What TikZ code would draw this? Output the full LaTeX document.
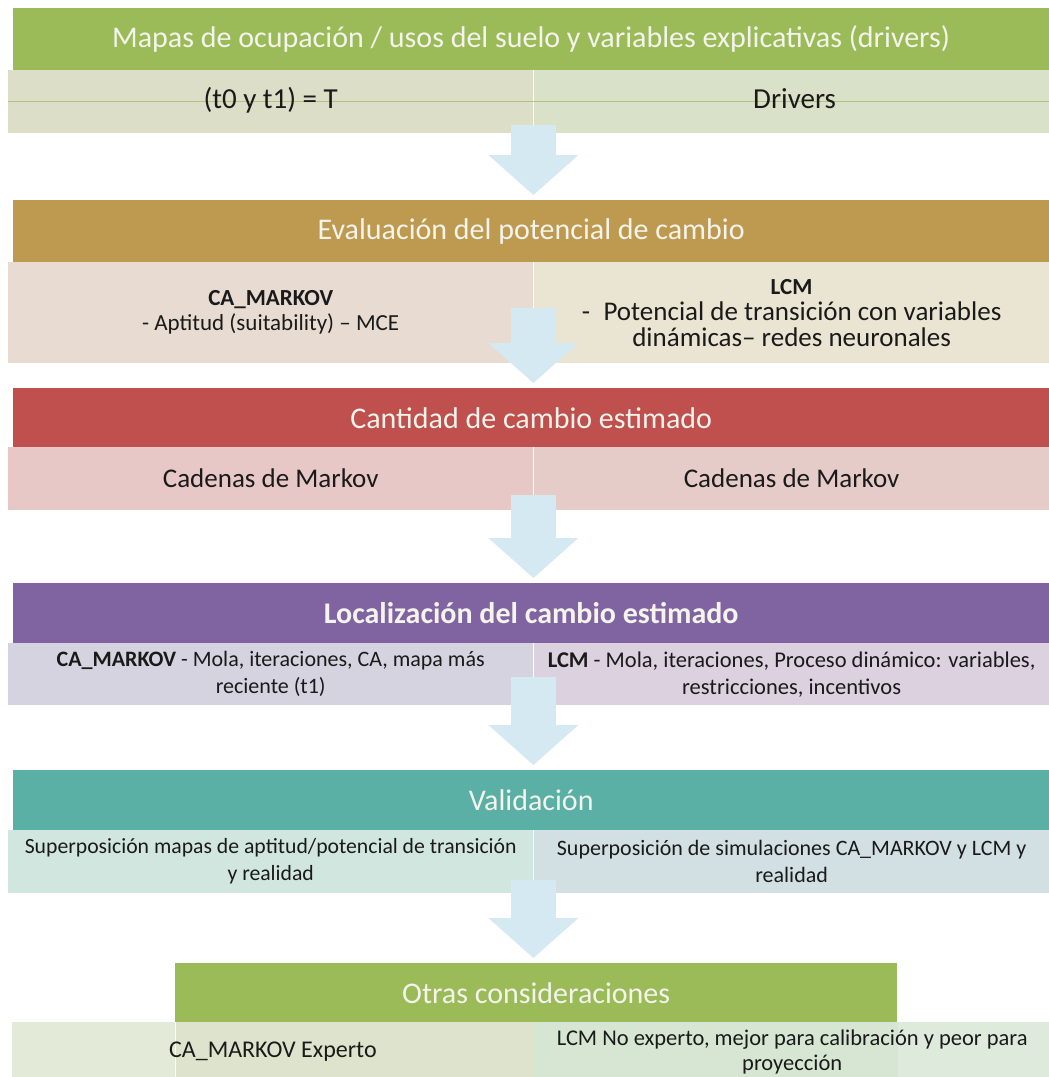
\documentclass[tikz,border=0pt]{standalone}
\usepackage{fontspec}
\setmainfont{Carlito}
\usetikzlibrary{arrows.meta,positioning,calc}

\definecolor{verde}{HTML}{9BBB59}
\definecolor{dorado}{HTML}{BE9A50}
\definecolor{rojo}{HTML}{C0504D}
\definecolor{morado}{HTML}{8064A2}
\definecolor{turquesa}{HTML}{5BB0A5}
\definecolor{fila1a}{HTML}{DDDEC8}
\definecolor{fila1b}{HTML}{D9E1C9}
\definecolor{fila2a}{HTML}{E8DCD2}
\definecolor{fila2b}{HTML}{EAE5D3}
\definecolor{fila3a}{HTML}{E7C8C7}
\definecolor{fila3b}{HTML}{E6CCC9}
\definecolor{fila4a}{HTML}{D4D3DF}
\definecolor{fila4b}{HTML}{DCD1DE}
\definecolor{fila5a}{HTML}{D1E6DF}
\definecolor{fila5b}{HTML}{D2DFE3}
\definecolor{fila6a}{HTML}{E4EAD8}
\definecolor{fila6b}{HTML}{DDE3CC}
\definecolor{fila6c}{HTML}{D7E6D3}
\definecolor{fila6d}{HTML}{DEEBDC}
\definecolor{lineaverde}{HTML}{AFC484}
\definecolor{azulflecha}{HTML}{D5E9F3}
\definecolor{textocab}{HTML}{F4F4EC}
\definecolor{textocelda}{HTML}{1A1A1A}

\tikzset{
  cabecera/.style={rectangle, anchor=north west, inner sep=0pt, text=textocab,
    font=\fontsize{30}{34}\selectfont},
  celda/.style={rectangle, anchor=north west, inner sep=0pt, align=center,
    text=textocelda},
  texto/.style={inner sep=0pt, align=center, text=textocelda,
    text height=0.7em, text depth=0.2em},
  flecha/.style={draw=azulflecha, line width=45pt,
    -{Triangle[width=90pt,length=40pt,line width=0pt]}, shorten >=5pt},
}

\begin{document}
\begin{tikzpicture}[x=1pt,y=-1pt]
\useasboundingbox (0,0) rectangle (1049,1077);

% Mapas y drivers
\node[cabecera, fill=verde, minimum width=1036pt, minimum height=62pt] (cab1) at (13,8)
  {Mapas de ocupación / usos del suelo y variables explicativas (drivers)};
\node[celda, fill=fila1a, minimum width=525pt, minimum height=63pt] (c1a) at (8,70) {};
\node[celda, fill=fila1b, minimum width=516pt, minimum height=63pt] (c1b) at (c1a.north east) {};
\draw[lineaverde, line width=1.5pt] (c1a.west) -- (c1b.east);
\node[texto, font=\fontsize{29}{32}\selectfont] (t1a) at ([yshift=-4pt]c1a.center) {(t0 y t1) = T};
\node[texto, font=\fontsize{29}{32}\selectfont] (t1b) at ([xshift=3pt,yshift=-4pt]c1b.center) {Drivers};

% Potencial de cambio
\node[cabecera, fill=dorado, minimum width=1036pt, minimum height=62pt] (cab2) at (13,200)
  {Evaluación del potencial de cambio};
\node[celda, fill=fila2a, minimum width=525pt, minimum height=101pt,
  font=\fontsize{23}{25}\selectfont] (c2a) at (8,262)
  {\textbf{CA\_MARKOV}\\- Aptitud (suitability) – MCE};
\node[celda, fill=fila2b, minimum width=516pt, minimum height=101pt,
  font=\fontsize{27}{26}\selectfont] (c2b) at (c2a.north east)
  {{\fontsize{23}{23}\selectfont\bfseries LCM}\\-\enspace Potencial de transición con variables\\dinámicas– redes neuronales};

% Cantidad de cambio
\node[cabecera, fill=rojo, minimum width=1036pt, minimum height=59pt] (cab3) at (13,388)
  {Cantidad de cambio estimado};
\node[celda, fill=fila3a, minimum width=525pt, minimum height=63pt,
  font=\fontsize{27}{30}\selectfont] (c3a) at (8,447) {Cadenas de Markov};
\node[celda, fill=fila3b, minimum width=516pt, minimum height=63pt,
  font=\fontsize{27}{30}\selectfont] (c3b) at (c3a.north east) {Cadenas de Markov};

% Localizacion
\node[cabecera, fill=morado, minimum width=1036pt, minimum height=60pt,
  font=\fontsize{30}{34}\bfseries] (cab4) at (13,583)
  {Localización del cambio estimado};
\node[celda, fill=fila4a, minimum width=525pt, minimum height=62pt,
  font=\fontsize{22}{27}\selectfont] (c4a) at (8,643)
  {\textbf{CA\_MARKOV} - Mola, iteraciones, CA, mapa más\\reciente (t1)};
\node[celda, fill=fila4b, minimum width=516pt, minimum height=62pt,
  font=\fontsize{22.5}{27}\selectfont] (c4b) at (c4a.north east)
  {\textbf{LCM} - Mola, iteraciones, Proceso dinámico: variables,\\restricciones, incentivos};

% Validacion
\node[cabecera, fill=turquesa, minimum width=1036pt, minimum height=60pt] (cab5) at (13,770)
  {Validación};
\node[celda, fill=fila5a, minimum width=525pt, minimum height=63pt,
  font=\fontsize{21.7}{27}\selectfont] (c5a) at (8,830)
  {Superposición mapas de aptitud/potencial de transición\\y realidad};
\node[celda, fill=fila5b, minimum width=516pt, minimum height=63pt,
  font=\fontsize{22}{27}\selectfont] (c5b) at (c5a.north east)
  {Superposición de simulaciones CA\_MARKOV y LCM y\\realidad};

% Otras consideraciones
\node[cabecera, fill=verde, minimum width=722pt, minimum height=59pt] (cab6) at (175,963)
  {Otras consideraciones};
\node[celda, fill=fila6a, minimum width=163pt, minimum height=56pt] (c6a) at (12,1022) {};
\node[celda, fill=fila6b, minimum width=358pt, minimum height=56pt] (c6b) at (c6a.north east) {};
\node[celda, fill=fila6c, minimum width=364pt, minimum height=56pt] (c6c) at (c6b.north east) {};
\node[celda, fill=fila6d, minimum width=152pt, minimum height=56pt] (c6d) at (c6c.north east) {};
\node[texto, font=\fontsize{24}{26}\selectfont] (t6a) at ([yshift=-5pt]$(c6a.west)!0.5!(c6b.east)$)
  {CA\_MARKOV Experto};
\node[celda, anchor=center, font=\fontsize{22.5}{25}\selectfont] (t6b)
  at ([yshift=-2pt]$(c6c.west)!0.5!(c6d.east)$)
  {LCM No experto, mejor para calibración y peor para\\proyección};

% flechas
\draw[flecha] ([yshift=8pt]c1a.south east) -- (c1a.south east |- cab2.north);
\draw[flecha] ([yshift=55pt]c2a.south east) -- (c2a.south east |- cab3.north);
\draw[flecha] ([yshift=15pt]c3a.south east) -- (c3a.south east |- cab4.north);
\draw[flecha] ([yshift=28pt]c4a.south east) -- (c4a.south east |- cab5.north);
\draw[flecha] ([yshift=13pt]c5a.south east) -- (c5b.south west |- cab6.north);

\end{tikzpicture}
\end{document}
